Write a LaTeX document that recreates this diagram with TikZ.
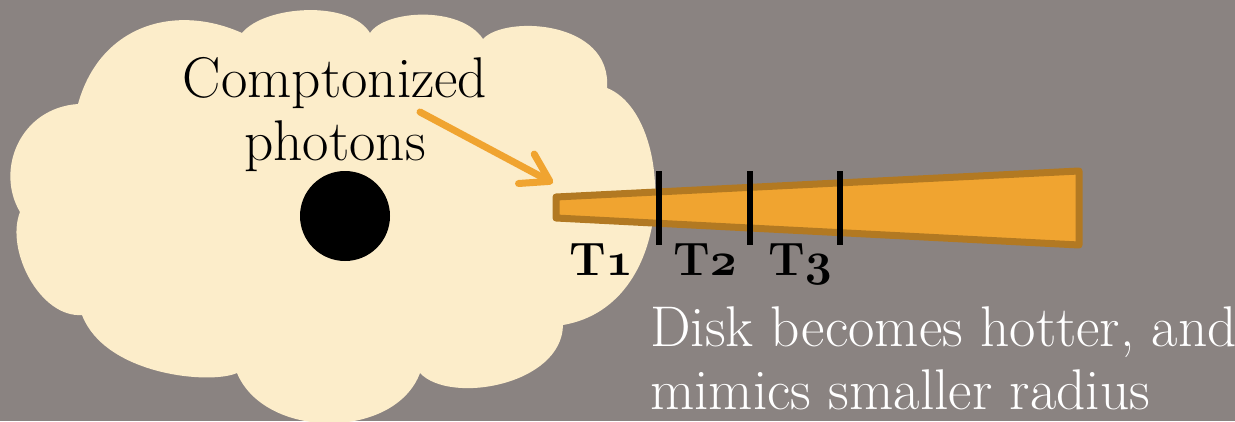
\documentclass[tikz,border=0pt]{standalone}
\usepackage{fix-cm}
\usetikzlibrary{arrows.meta}
\definecolor{slate}{RGB}{138,131,129}
\definecolor{haze}{RGB}{252,237,202}
\definecolor{amber}{RGB}{240,164,48}
\definecolor{rust}{RGB}{178,121,34}
\newcommand{\osnum}[1]{{\usefont{OML}{cmm}{b}{it}#1}}

\begin{document}
\begin{tikzpicture}[x=0.03cm,y=-0.03cm,
  lbl/.style={font=\fontsize{49}{53}\selectfont,align=left,inner sep=0pt},
  tlabel/.style={font=\fontsize{40}{48}\selectfont\bfseries,inner sep=0pt,anchor=base},
  arr/.style={amber,line width=0.21cm,line cap=round,-{Straight Barb[length=0.8cm,width=1cm,round]}}]
\useasboundingbox (0,0) rectangle (1235,421);
\fill[slate] (0,0) rectangle (1235,421);
% corona cloud
\fill[haze] (20,212) .. controls (-5,170) and (20,108) .. (78,104)
  .. controls (100,25) and (175,3) .. (242,33)
  .. controls (265,5) and (350,0) .. (370,33)
  .. controls (385,10) and (460,5) .. (483,39)
  .. controls (505,15) and (612,20) .. (607,88)
  .. controls (675,115) and (680,305) .. (563,325)
  .. controls (562,385) and (450,405) .. (420,373)
  .. controls (395,440) and (265,440) .. (237,373)
  .. controls (210,385) and (105,375) .. (82,315)
  .. controls (40,318) and (5,250) .. (20,212) -- cycle;
\node[circle,fill=black,minimum size=2.7cm,inner sep=0pt] (hole) at (345,216) {};
% base of a two-line node is its last line
\node[lbl,align=center,anchor=base] (comp) at (335,160) {Comptonized\\photons};
\node[lbl,text=white,anchor=base west] (note) at (650,409) {Disk becomes hotter, and\\mimics smaller radius};
% arrow onto the inner edge
\coordinate (tail) at (420,112);
\coordinate (head) at (553,183);
\draw[arr] (tail) -- (head);
% truncated disk
\filldraw[fill=amber,draw=rust,line width=0.21cm,line join=round]
  (556,197) -- (1079,171) -- (1079,245) -- (556,218) -- cycle;
\foreach \x in {659,750,840}
  \draw[line width=0.2cm] (\x,171) -- (\x,245);
\foreach \t/\x in {1/601,2/705,3/800}
  \node[tlabel] (t\t) at (\x,275) {T\osnum{\t}};
\end{tikzpicture}
\end{document}
